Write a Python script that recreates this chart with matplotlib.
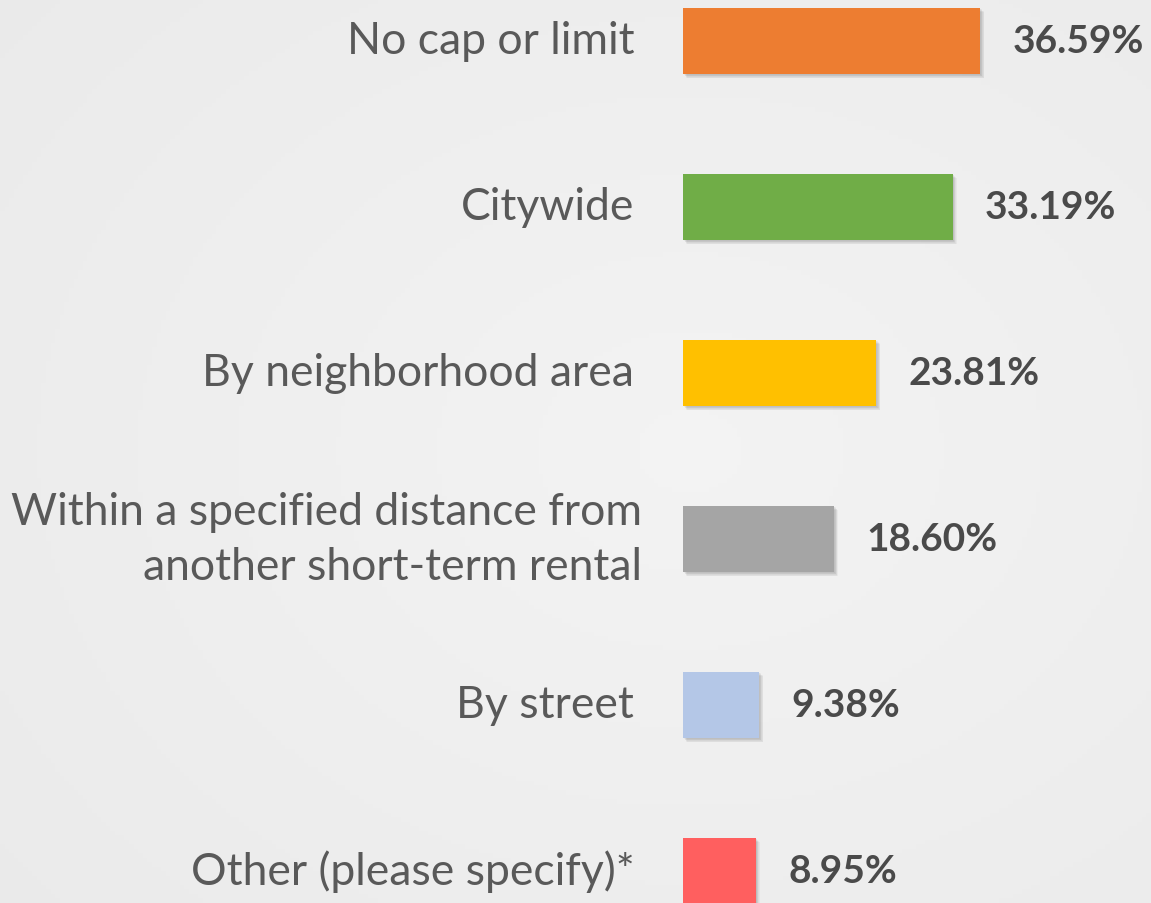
import numpy as np
import matplotlib
matplotlib.use("Agg")
import matplotlib.pyplot as plt

# ---------- data ----------
labels = ["No cap or limit", "Citywide", "By neighborhood area",
          "Within a specified distance from\nanother short-term rental",
          "By street", "Other (please specify)*"]
values = [36.59, 33.19, 23.81, 18.60, 9.38, 8.95]
colors = ["#ED7D31", "#70AD47", "#FFC000", "#A5A5A5", "#B4C7E7", "#FF5F5F"]

W, H = 1151, 904
px_per_pct = 8.12
x0 = 683

fig = plt.figure(figsize=(W / 100, H / 100), dpi=100)

# background gradient
bg = fig.add_axes([0, 0, 1, 1], zorder=0)
yy, xx = np.mgrid[0:1:200j, 0:1:250j]
r = np.sqrt((xx - 0.6) ** 2 + (yy - 0.5) ** 2)
shade = 0.955 - 0.045 * r
bg.imshow(np.dstack([shade] * 3), extent=[0, 1, 0, 1], aspect="auto")
bg.axis("off")

ax = fig.add_axes([0, 0, 1, 1], zorder=1)
ax.patch.set_alpha(0)
ax.set_xlim(-x0 / px_per_pct, (W - x0) / px_per_pct)
ax.set_ylim((H - 42) / 166, -42 / 166)
ax.axis("off")

pos = np.arange(len(values))
bh = 0.4

# soft shadow
for k in range(6):
    off = (1 + k * 0.6)
    ax.barh(pos + off / 166, values, left=off / px_per_pct, height=bh,
            color="black", alpha=0.035, zorder=2)
ax.barh(pos, values, height=bh, color=colors, zorder=3)

for i, (lab, v) in enumerate(zip(labels, values)):
    ax.text(-5.0 if "\n" in lab else -6.0, i, lab, ha="right", va="center",
            fontsize=32, family="Lato", color="#595959", linespacing=1.45)
    ax.text(v + 4.0, i, f"{v:.2f}%", ha="left", va="center", fontsize=28,
            family="Lato", fontweight="bold", color="#4a4a4a")

fig.savefig("out.png", dpi=100)
